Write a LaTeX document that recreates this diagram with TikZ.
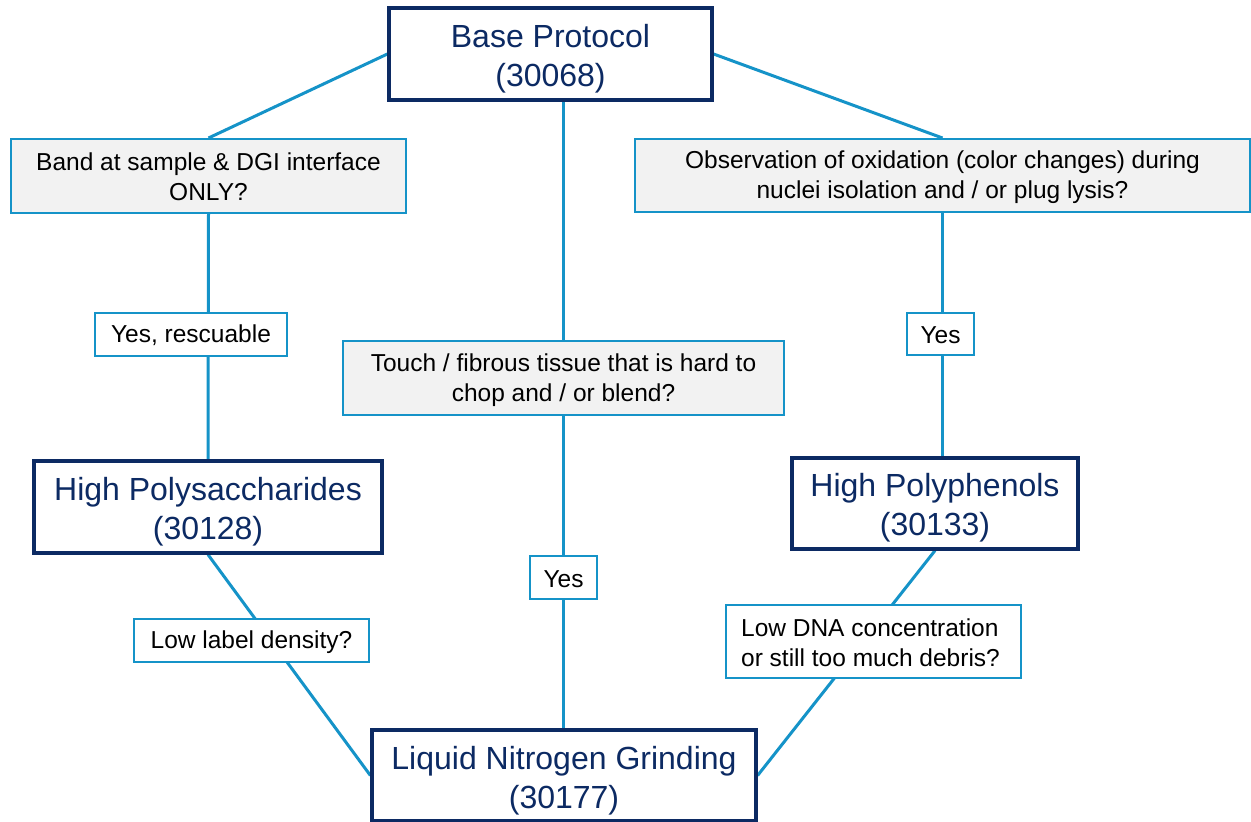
\documentclass[tikz,border=0pt]{standalone}
\usepackage{fontspec}
\setmainfont{Liberation Sans}
\usetikzlibrary{backgrounds}
\definecolor{navy}{HTML}{0C2A63}
\definecolor{lineblue}{HTML}{1593C8}
\definecolor{qgray}{HTML}{F2F2F2}
\tikzset{
  mainbox/.style={draw=navy, line width=3.2pt, fill=white, inner sep=0pt},
  maintext/.style={text=navy, align=center, inner sep=0pt, font=\fontsize{32}{39}\selectfont},
  qbox/.style={draw=lineblue, line width=2pt, fill=qgray, inner sep=0pt},
  abox/.style={draw=lineblue, line width=2pt, fill=white, inner sep=0pt},
  qtext/.style={text=black, align=center, inner sep=0pt, font=\fontsize{24.5}{30}\selectfont},
  link/.style={draw=lineblue, line width=3pt},
}
\begin{document}
\begin{tikzpicture}[x=1pt,y=-1pt]
\useasboundingbox (0,0) rectangle (1251,822);
% boxes
\node[mainbox, minimum width=323pt, minimum height=92pt] (base) at (550.5,54) {};
\node[qbox, minimum width=395pt, minimum height=74pt] (band) at (208.5,176) {};
\node[qbox, minimum width=615pt, minimum height=73pt] (obs) at (942.5,175.5) {};
\node[abox, minimum width=192pt, minimum height=43pt] (yresc) at (191,334.5) {};
\node[qbox, minimum width=441pt, minimum height=74pt] (touch) at (563.5,378) {};
\node[abox, minimum width=67pt, minimum height=42pt] (yesr) at (940.5,334) {};
\node[mainbox, minimum width=348pt, minimum height=92pt] (hpoly) at (208,507) {};
\node[mainbox, minimum width=286pt, minimum height=91pt] (hphen) at (935,503.5) {};
\node[abox, minimum width=67pt, minimum height=43pt] (yesc) at (563.5,577.5) {};
\node[abox, minimum width=235pt, minimum height=43pt] (lowlab) at (251.5,640.5) {};
\node[abox, minimum width=295pt, minimum height=73pt] (lowdna) at (873.5,641.5) {};
\node[mainbox, minimum width=384pt, minimum height=91pt] (lng) at (564,775.5) {};
% texts
\node[maintext] (baseT) at (550.5,59) {Base Protocol\\(30068)};
\node[qtext] (bandT) at (208.5,177) {Band at sample \& DGI interface\\ONLY?};
\node[qtext] (obsT) at (942.5,177) {Observation of oxidation (color changes) during\\nuclei isolation and / or plug lysis?};
\node[qtext] (yrescT) at (191,335.5) {Yes, rescuable};
\node[qtext] (touchT) at (563.5,380) {Touch / fibrous tissue that is hard to\\chop and / or blend?};
\node[qtext] (yesrT) at (940.5,335) {Yes};
\node[maintext] (hpolyT) at (208,512) {High Polysaccharides\\(30128)};
\node[maintext] (hphenT) at (935,508) {High Polyphenols\\(30133)};
\node[qtext] (yescT) at (563.5,579) {Yes};
\node[qtext] (lowlabT) at (251.5,642) {Low label density?};
\node[qtext, align=left] (lowdnaT) at (870.5,643) {Low DNA concentration\\or still too much debris?};
\node[maintext] (lngT) at (564,780.5) {Liquid Nitrogen Grinding\\(30177)};
\begin{scope}[on background layer]
\draw[link] (base.west) -- (band.north);
\draw[link] (base.east) -- (obs.north);
\draw[link] (touch.north |- base.south) -- (touch.north);
\draw[link] (band.south) -- (hpoly.north);
\draw[link] (obs.south) -- (obs.south |- hphen.north);
\draw[link] (touch.south) -- (touch.south |- lng.north);
\draw[link] (hpoly.south) -- (lng.west);
\draw[link] (hphen.south) -- (lng.east);
\end{scope}
\end{tikzpicture}
\end{document}
